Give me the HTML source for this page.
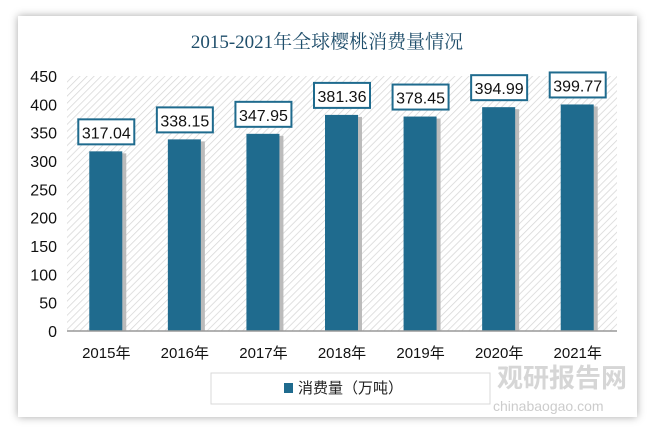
<!DOCTYPE html>
<html><head><meta charset="utf-8"><style>
body{margin:0;width:653px;height:433px;background:#fff;overflow:hidden;font-family:"Liberation Sans","Noto Sans CJK SC",sans-serif}
#card{position:absolute;left:18px;top:16px;width:619px;height:401px;background:#fff;box-shadow:0 0 8px rgba(0,0,0,0.35)}
</style></head><body>
<div id="card"></div>
<svg width="653" height="433" style="position:absolute;left:0;top:0">
<defs><pattern id="hatch" width="5" height="5" patternUnits="userSpaceOnUse" patternTransform="rotate(45)"><rect width="5" height="5" fill="#fff"/><line x1="0" y1="0" x2="0" y2="5" stroke="#d6d6d6" stroke-width="1.5"/></pattern></defs>
<text x="327" y="48" text-anchor="middle" font-size="19" fill="#1f4e6b" font-family="Liberation Serif,Noto Serif CJK SC,serif">2015-2021年全球樱桃消费量情况</text>
<rect x="67" y="76" width="550" height="255" fill="url(#hatch)"/>
<g id="g"></g>
<rect x="211" y="373" width="279" height="31" fill="#fff" stroke="#d9d9d9"/>
<rect x="284" y="383" width="9" height="10" fill="#1f6b8e"/>
<text x="298" y="393" font-size="15" fill="#222">消费量（万吨）</text>
<text x="497" y="387" font-size="26" font-weight="bold" fill="#ccc" opacity="0.8">观研报告网</text>
<text x="493" y="411" font-size="14" fill="#ccc">chinabaogao.com</text>
</svg>
<script>
const categories=["2015年","2016年","2017年","2018年","2019年","2020年","2021年"];
const values=[317.04,338.15,347.95,381.36,378.45,394.99,399.77];
const ticks=[0,50,100,150,200,250,300,350,400,450];
const ns="http://www.w3.org/2000/svg",g=document.getElementById("g");
const X0=67,W=550,Y0=331,H=255,MAX=450;
const y=v=>Y0-v/MAX*H, bw=W/categories.length, cx=i=>X0+bw*(i+0.5);
function mk(t,a,txt){const e=document.createElementNS(ns,t);for(const k in a)e.setAttribute(k,a[k]);if(txt!=null)e.textContent=txt;g.appendChild(e);return e;}
ticks.forEach(t=>{const e=mk("text",{x:57,y:y(t)+6,"text-anchor":"end","font-size":"16",fill:"#111"},t);

});
values.forEach((v,i)=>{
const s=mk("rect",{x:cx(i)-16+3,y:y(v)+2,width:33,height:Y0-y(v)-2,fill:"#bbb"});


const b=mk("rect",{x:cx(i)-17,y:y(v),width:33,height:Y0-y(v),fill:"#1f6b8e"});


const by=y(v)-32;
const r=mk("rect",{x:cx(i)-28,y:by,width:56,height:25,fill:"#fff",stroke:"#1f6b8e","stroke-width":"2"});


const t=mk("text",{x:cx(i),y:by+19,"text-anchor":"middle","font-size":"16",fill:"#111"},v.toFixed(2));


const c=mk("text",{x:cx(i),y:358,"text-anchor":"middle","font-size":"15",fill:"#111"},categories[i]);


});
const ax=mk("line",{x1:X0,x2:X0+W,y1:Y0,y2:Y0,stroke:"#999","stroke-width":"1.5"});


</script>
</body></html>
